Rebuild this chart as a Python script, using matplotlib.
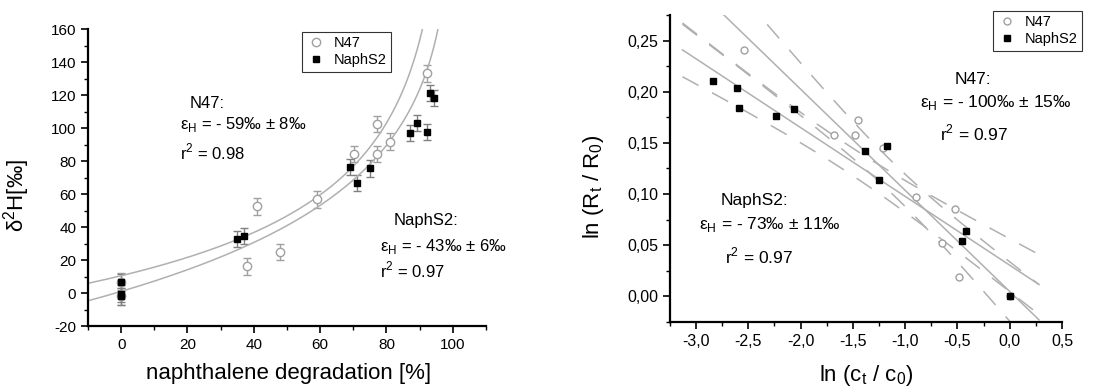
import numpy as np
import matplotlib
matplotlib.use("Agg")
from matplotlib import pyplot as plt
from matplotlib.ticker import MultipleLocator, FuncFormatter

plt.rcParams['font.family'] = ['Liberation Sans', 'DejaVu Sans']
plt.rcParams['mathtext.fontset'] = 'custom'
plt.rcParams['mathtext.rm'] = 'Liberation Sans'
plt.rcParams['axes.unicode_minus'] = False

# ---- left panel: delta2H vs degradation ----
n47_deg = [0, 0, 38.0, 40.9, 48.0, 59.0, 70.2, 77.1, 77.1, 81.1, 92.3]
n47_d2h = [7, -2, 16.2, 52.5, 24.8, 56.8, 84.2, 102.6, 84.2, 91.9, 133.3]
n47_err = [5, 5, 5, 5, 5, 5, 5, 5, 5, 5, 5]

naph_deg = [0, 0, 0, 34.9, 37.1, 69.1, 71.2, 75.1, 87.2, 89.1, 92.3, 93.2, 94.2]
naph_d2h = [6.5, -0.4, -2.0, 32.7, 34.7, 76.4, 66.9, 75.6, 97.2, 103.2, 97.8, 121.2, 118.2]
naph_err = [5, 5, 5, 5, 5, 5, 5, 5, 5, 5, 5, 5, 5]

# fitted curve parameters (delta0, slope, curvature)
n47_fit = (10.5, 48.8, 0.2)
naph_fit = (1.0, 59.6, -0.1)

# ---- right panel: ln(Rt/R0) vs ln(ct/c0) ----
n47_lnc = [-2.544, -1.682, -1.478, -1.452, -1.213, -0.894, -0.524, -0.648, -0.482, 0.0]
n47_lnr = [0.241, 0.158, 0.158, 0.172, 0.145, 0.097, 0.085, 0.052, 0.019, 0.0]
naph_lnc = [-2.834, -2.604, -2.588, -2.237, -2.059, -1.385, -1.175, -1.255, -0.422, -0.457, 0.006]
naph_lnr = [0.211, 0.204, 0.184, 0.176, 0.183, 0.142, 0.147, 0.114, 0.064, 0.054, 0.0]

W, H = 1111, 387
fig = plt.figure(figsize=(W / 100, H / 100), dpi=100)

def fx(px):
    return px / W

def fy(py):
    return 1 - py / H

GREY = '#a0a0a0'
LINEGREY = '#b0b0b0'

def style_axes(ax, fs):
    for s in ['top', 'right']:
        ax.spines[s].set_visible(False)
    for s in ['left', 'bottom']:
        ax.spines[s].set_linewidth(1.6)
    ax.tick_params(which='major', direction='out', length=5, width=1.2, labelsize=fs)
    ax.tick_params(which='minor', direction='out', length=3, width=1.0)

def curve(deg, p):
    d0, a, k = p
    f = 1 - deg / 100.0
    return d0 + a * (f ** (-k) - 1) / k

# left axes
ax1 = fig.add_axes([0.0792, 0.1576, 0.3582, 0.7667])
style_axes(ax1, 11)
ax1.errorbar(n47_deg, n47_d2h, yerr=n47_err, fmt='none', ecolor=GREY, elinewidth=1, capsize=3, capthick=1)
ax1.errorbar(naph_deg, naph_d2h, yerr=naph_err, fmt='none', ecolor='#808080', elinewidth=1, capsize=3, capthick=1)

xs = np.linspace(-10, 99.5, 600)
ax1.plot(xs, curve(xs, n47_fit), color=LINEGREY, lw=1.1)
ax1.plot(xs, curve(xs, naph_fit), color=LINEGREY, lw=1.1)

ax1.plot(n47_deg, n47_d2h, 'o', ms=6, mfc='white', mec=GREY, mew=1, label='N47')
ax1.plot(naph_deg, naph_d2h, 's', ms=5, mfc='black', mec='black', label='NaphS2')

ax1.set_xlim(-10, 110)
ax1.set_ylim(-20, 160)
ax1.xaxis.set_major_locator(MultipleLocator(20))
ax1.xaxis.set_minor_locator(MultipleLocator(10))
ax1.yaxis.set_major_locator(MultipleLocator(20))
ax1.yaxis.set_minor_locator(MultipleLocator(10))
ax1.set_xticks([0, 20, 40, 60, 80, 100])

ax1.set_xlabel('naphthalene degradation [%]', fontsize=16)
ax1.xaxis.set_label_coords(0.504, -0.125)
ax1.set_ylabel(r'δ$^{\mathregular{2}}$H[‰]', fontsize=16)
ax1.yaxis.set_label_coords(-0.14, 0.44)

leg1 = ax1.legend(loc='upper left', bbox_to_anchor=(fx(302), fy(32)), bbox_transform=fig.transFigure,
                  fontsize=10.5, frameon=True, fancybox=False, borderpad=0.3, labelspacing=0.2,
                  handletextpad=0.6, handlelength=1.3, borderaxespad=0)
leg1.get_frame().set_edgecolor('black')
leg1.get_frame().set_linewidth(0.8)

fs_txt = 12
fig.text(fx(207), fy(103), 'N47:', fontsize=fs_txt, ha='center', va='center')
fig.text(fx(180), fy(125), 'ε$_{\\mathregular{H}}$ = - 59‰ ± 8‰', fontsize=fs_txt, ha='left', va='center')
fig.text(fx(180), fy(152), 'r$^{\\mathregular{2}}$ = 0.98', fontsize=fs_txt, ha='left', va='center')
fig.text(fx(426), fy(220), 'NaphS2:', fontsize=fs_txt, ha='center', va='center')
fig.text(fx(380), fy(247), 'ε$_{\\mathregular{H}}$ = - 43‰ ± 6‰', fontsize=fs_txt, ha='left', va='center')
fig.text(fx(380), fy(270), 'r$^{\\mathregular{2}}$ = 0.97', fontsize=fs_txt, ha='left', va='center')

# right axes
ax2 = fig.add_axes([0.603, 0.168, 0.3529, 0.7932])
style_axes(ax2, 11.5)

def reg_band(x, y, t, xr):
    # least squares line with 95% confidence band
    x = np.asarray(x)
    y = np.asarray(y)
    b, a = np.polyfit(x, y, 1)
    res = y - (a + b * x)
    s = np.sqrt(np.sum(res ** 2) / (len(x) - 2))
    sxx = np.sum((x - x.mean()) ** 2)
    yl = a + b * xr
    se = s * np.sqrt(1.0 / len(x) + (xr - x.mean()) ** 2 / sxx)
    return yl, yl - t * se, yl + t * se

xr = np.linspace(-3.13, 0.28, 200)
for lx, ly, t in [(n47_lnc, n47_lnr, 2.306), (naph_lnc, naph_lnr, 2.262)]:
    yl, lo, hi = reg_band(lx, ly, t, xr)
    ax2.plot(xr, yl, color=LINEGREY, lw=1.1)
    ax2.plot(xr, lo, color=LINEGREY, lw=1.1, dashes=(12, 10))
    ax2.plot(xr, hi, color=LINEGREY, lw=1.1, dashes=(12, 10))

ax2.plot(n47_lnc, n47_lnr, 'o', ms=5, mfc='white', mec=GREY, mew=1, label='N47')
ax2.plot(naph_lnc, naph_lnr, 's', ms=4.5, mfc='black', mec='black', label='NaphS2')

ax2.set_xlim(-3.25, 0.5)
ax2.set_ylim(-0.025, 0.275)
ax2.xaxis.set_major_locator(MultipleLocator(0.5))
ax2.xaxis.set_minor_locator(MultipleLocator(0.25))
ax2.yaxis.set_major_locator(MultipleLocator(0.05))
ax2.yaxis.set_minor_locator(MultipleLocator(0.025))
ax2.xaxis.set_major_formatter(FuncFormatter(lambda v, p: f'{v:.1f}'.replace('.', ',')))
ax2.yaxis.set_major_formatter(FuncFormatter(lambda v, p: f'{v:.2f}'.replace('.', ',')))

ax2.set_xlabel(r'ln (c$_{\mathregular{t}}$ / c$_{\mathregular{0}}$)', fontsize=16)
ax2.xaxis.set_label_coords(0.5, -0.133)
ax2.set_ylabel(r'ln (R$_{\mathregular{t}}$ / R$_{\mathregular{0}}$)', fontsize=16)
ax2.yaxis.set_label_coords(-0.163, 0.44)

leg2 = ax2.legend(loc='upper left', bbox_to_anchor=(fx(993), fy(11)), bbox_transform=fig.transFigure,
                  fontsize=10.5, frameon=True, fancybox=False, borderpad=0.3, labelspacing=0.2,
                  handletextpad=0.6, handlelength=1.3, borderaxespad=0)
leg2.get_frame().set_edgecolor('black')
leg2.get_frame().set_linewidth(0.8)

fs_txt2 = 12.5
fig.text(fx(973), fy(79), 'N47:', fontsize=fs_txt2, ha='center', va='center')
fig.text(fx(920), fy(102), 'ε$_{\\mathregular{H}}$ = - 100‰ ± 15‰', fontsize=fs_txt2, ha='left', va='center')
fig.text(fx(940), fy(133), 'r$^{\\mathregular{2}}$ = 0.97', fontsize=fs_txt2, ha='left', va='center')
fig.text(fx(754), fy(201), 'NaphS2:', fontsize=fs_txt2, ha='center', va='center')
fig.text(fx(699), fy(225), 'ε$_{\\mathregular{H}}$ = - 73‰ ± 11‰', fontsize=fs_txt2, ha='left', va='center')
fig.text(fx(725), fy(256), 'r$^{\\mathregular{2}}$ = 0.97', fontsize=fs_txt2, ha='left', va='center')

fig.savefig('out.png', dpi=100)
